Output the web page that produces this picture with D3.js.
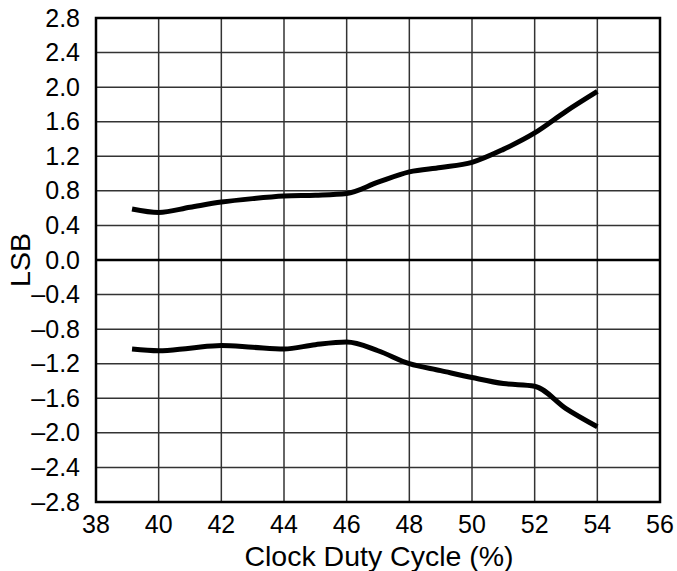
<!DOCTYPE html>
<html><head><meta charset="utf-8">
<script src="https://cdn.jsdelivr.net/npm/d3@7"></script>
<style>body{margin:0;background:#fff}</style>
</head><body>
<svg id="c" width="677" height="571"></svg>
<script>
const xTicks = [38,40,42,44,46,48,50,52,54,56];
const yTicks = [2.8,2.4,2.0,1.6,1.2,0.8,0.4,0.0,-0.4,-0.8,-1.2,-1.6,-2.0,-2.4,-2.8];
const dutyUpper = [39.15,40,41,42,43,44,45,46,47,48,49,50,51,52,53,54];
const inlMax =    [0.59,0.55,0.61,0.67,0.71,0.74,0.75,0.77,0.90,1.02,1.07,1.13,1.28,1.47,1.72,1.95];
const dutyLower = [39.15,40,41,42,43,44,45,46,47,48,49,50,51,52,53,54];
const inlMin =    [-1.03,-1.05,-1.02,-0.99,-1.01,-1.03,-0.98,-0.95,-1.05,-1.2,-1.28,-1.36,-1.43,-1.46,-1.72,-1.93];

const L=96,R=660,T=18,B=502;
const svg=d3.select("#c");
const x=d3.scaleLinear().domain([38,56]).range([L,R]);
const y=d3.scaleLinear().domain([-2.8,2.8]).range([B,T]);
const font="'Liberation Sans', Arial, sans-serif";
const fmt=v=>{const s=Math.abs(v).toFixed(1);return v<-1e-9?"\u2013"+s:s;};

const g=svg.append("g");
g.selectAll(".vg").data(xTicks.slice(1,-1)).join("line")
 .attr("x1",d=>x(d)).attr("x2",d=>x(d)).attr("y1",T).attr("y2",B)
 .attr("stroke","#333").attr("stroke-width",1.5);
g.selectAll(".hg").data(yTicks.filter(d=>Math.abs(d)<2.75 && Math.abs(d)>1e-9)).join("line")
 .attr("x1",L).attr("x2",R).attr("y1",d=>y(d)).attr("y2",d=>y(d))
 .attr("stroke","#333").attr("stroke-width",1.5);
g.append("line").attr("x1",L).attr("x2",R).attr("y1",y(0)).attr("y2",y(0))
 .attr("stroke","#000").attr("stroke-width",2.5);

const line=d3.line().curve(d3.curveMonotoneX);
svg.append("path").attr("d",line(dutyUpper.map((d,i)=>[x(d),y(inlMax[i])])))
 .attr("fill","none").attr("stroke","#000").attr("stroke-width",5);
svg.append("path").attr("d",line(dutyLower.map((d,i)=>[x(d),y(inlMin[i])])))
 .attr("fill","none").attr("stroke","#000").attr("stroke-width",5);

svg.append("rect").attr("x",L).attr("y",T).attr("width",R-L).attr("height",B-T)
 .attr("fill","none").attr("stroke","#000").attr("stroke-width",2.5);

svg.selectAll(".yl").data(yTicks).join("text")
 .attr("x",80).attr("y",d=>y(d)+8.5).attr("text-anchor","end")
 .attr("font-family",font).attr("font-size",25).text(fmt);
svg.selectAll(".xl").data(xTicks).join("text")
 .attr("x",d=>x(d)).attr("y",533).attr("text-anchor","middle")
 .attr("font-family",font).attr("font-size",25).text(d=>d);
svg.append("text").attr("x",379).attr("y",566).attr("text-anchor","middle")
 .attr("font-family",font).attr("font-size",28.5).text("Clock Duty Cycle (%)");
svg.append("text").attr("transform","translate(30,260) rotate(-90)").attr("text-anchor","middle")
 .attr("font-family",font).attr("font-size",28.5).text("LSB");
</script>
</body></html>
